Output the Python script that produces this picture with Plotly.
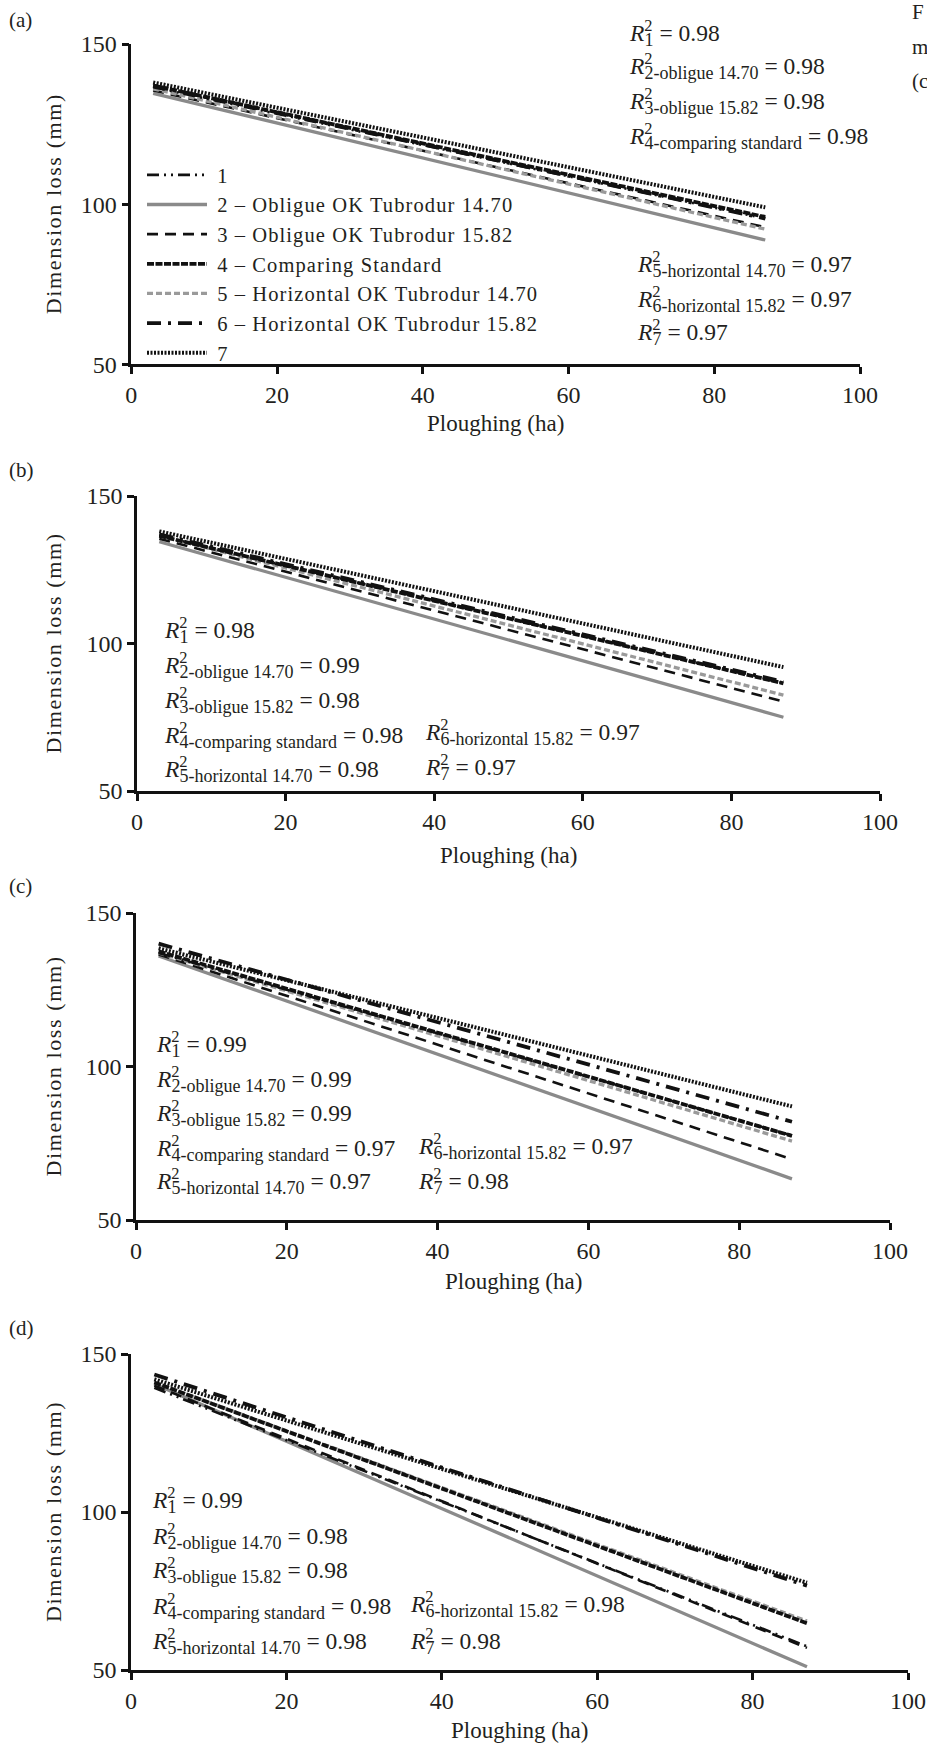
import plotly.graph_objects as go

W, H = 927, 1747
FONT = "Liberation Serif"
TXT = "#231f20"

# ---------------- data ----------------
x_ha = [3, 87]
series_names = [
    "1",
    "2 – Obligue OK Tubrodur 14.70",
    "3 – Obligue OK Tubrodur 15.82",
    "4 – Comparing Standard",
    "5 – Horizontal OK Tubrodur 14.70",
    "6 – Horizontal OK Tubrodur 15.82",
    "7",
]
# start (x=3 ha) and end (x=87 ha) dimension loss, series 1..7
a_start = [136.5, 134.6, 135.5, 137.0, 136.0, 137.0, 138.0]
a_end = [95.5, 88.8, 92.8, 96.0, 92.2, 95.5, 99.0]
b_start = [136.5, 134.5, 135.5, 136.5, 136.5, 137.0, 138.0]
b_end = [86.5, 75.0, 80.3, 86.5, 82.5, 87.0, 92.0]
c_start = [137.0, 136.0, 136.5, 137.5, 137.0, 140.0, 138.5]
c_end = [77.5, 63.4, 69.8, 77.4, 75.7, 82.0, 87.0]
d_start = [139.3, 140.5, 140.0, 141.0, 141.0, 143.5, 142.0]
d_end = [57.5, 51.0, 57.0, 64.8, 65.5, 76.7, 77.6]

r2_labels = ["1", "2-obligue 14.70", "3-obligue 15.82", "4-comparing standard",
             "5-horizontal 14.70", "6-horizontal 15.82", "7"]
a_r2 = ["0.98", "0.98", "0.98", "0.98", "0.97", "0.97", "0.97"]
b_r2 = ["0.98", "0.99", "0.98", "0.98", "0.98", "0.97", "0.97"]
c_r2 = ["0.99", "0.99", "0.99", "0.97", "0.97", "0.97", "0.98"]
d_r2 = ["0.99", "0.98", "0.98", "0.98", "0.98", "0.98", "0.98"]

x_ticks = [0, 20, 40, 60, 80, 100]
y_ticks = [50, 100, 150]

# ---------------- styles ----------------
GRAY = "#8a8a8a"
styles = [
    dict(color="#111", width=2.6, dash="12px,5px,2px,5px,2px,5px"),
    dict(color=GRAY, width=3.3, dash="solid"),
    dict(color="#111", width=2.6, dash="11px,7px"),
    dict(color="#111", width=3.8, dash="7px,1.5px"),
    dict(color="#9a9a9a", width=3.3, dash="6px,3px"),
    dict(color="#111", width=3.8, dash="14px,7px,3px,7px"),
    dict(color="#111", width=4.0, dash="2px,1.5px"),
]
draw_order = [1, 2, 4, 3, 0, 5, 6]

# panel plot areas in px: (x_left, x_right, y_top, y_bottom)
panels = [
    (131.3, 860.0, 44.0, 364.3),
    (137.0, 880.0, 496.0, 791.0),
    (136.0, 890.0, 913.0, 1220.0),
    (131.0, 908.0, 1354.0, 1670.0),
]
starts = [a_start, b_start, c_start, d_start]
ends = [a_end, b_end, c_end, d_end]
r2s = [a_r2, b_r2, c_r2, d_r2]
letters = ["(a)", "(b)", "(c)", "(d)"]

fig = go.Figure()

for p in range(4):
    ax = "" if p == 0 else str(p + 1)
    for i in draw_order:
        st = styles[i]
        fig.add_trace(go.Scatter(
            x=x_ha, y=[starts[p][i], ends[p][i]],
            mode="lines",
            name="\u00a0<span style='letter-spacing:1.1px'>" + series_names[i] + "</span>",
            line=dict(color=st["color"], width=st["width"], dash=st["dash"]),
            xaxis="x" + ax, yaxis="y" + ax,
            showlegend=(p == 0), legendrank=i + 1,
            hoverinfo="skip",
        ))

layout = dict(
    width=W, height=H, margin=dict(l=0, r=0, t=0, b=0, autoexpand=False),
    paper_bgcolor="white", plot_bgcolor="white",
    font=dict(family=FONT, size=22, color=TXT),
    showlegend=True,
    legend=dict(x=142 / W, y=1 - 155 / H, xanchor="left", yanchor="top",
                bgcolor="rgba(0,0,0,0)", font=dict(family=FONT, size=20.5, color=TXT),
                itemwidth=60, tracegroupgap=0),
)
for p, (xl, xr, yt, yb) in enumerate(panels):
    ax = "" if p == 0 else str(p + 1)
    layout["xaxis" + ax] = dict(
        domain=[xl / W, xr / W], range=[0, 100], anchor="y" + ax, automargin=False,
        tickvals=x_ticks, ticks="outside", ticklen=7, tickwidth=2.5, tickcolor="#111",
        showline=True, linewidth=2.5, linecolor="#111", showgrid=False, zeroline=False,
        tickfont=dict(family=FONT, size=24, color=TXT), fixedrange=True,
    )
    layout["yaxis" + ax] = dict(
        domain=[1 - yb / H, 1 - yt / H], range=[50, 150], anchor="x" + ax, automargin=False,
        tickvals=y_ticks, ticks="outside", ticklen=7, tickwidth=2.5, tickcolor="#111",
        showline=True, linewidth=2.5, linecolor="#111", showgrid=False, zeroline=False,
        tickfont=dict(family=FONT, size=24, color=TXT), fixedrange=True,
    )
fig.update_layout(**layout)

ann = []


def r2_text(sub, val):
    return ("<i>R</i><sup><span style='letter-spacing:-8px'>2</span></sup>"
            "<sub><span style='font-size:18px'>" + sub + "</span></sub> = " + val)


def add_text(txt, px, py, xanchor="left", size=22, angle=0):
    ann.append(dict(text=txt, x=px / W, y=1 - py / H, xref="paper", yref="paper",
                    xanchor=xanchor, yanchor="middle", showarrow=False, textangle=angle,
                    font=dict(family=FONT, size=size, color=TXT)))


for p, (xl, xr, yt, yb) in enumerate(panels):
    add_text(letters[p], 7, [20, 470, 886, 1328][p], size=21)
    add_text("Ploughing (ha)", (xl + xr) / 2, yb + [59, 64, 61, 60][p],
             xanchor="center", size=23)
    add_text("<span style='letter-spacing:1.6px'>Dimension loss (mm)</span>", 53,
             (yt + yb) / 2, xanchor="center", size=22, angle=-90)

# R² labels: (panel, series index, x px, y px)
r2_pos = [
    (0, 0, 627, 33), (0, 1, 627, 66), (0, 2, 627, 101), (0, 3, 627, 136),
    (0, 4, 635, 264), (0, 5, 635, 299), (0, 6, 635, 332),
    (1, 0, 162, 630), (1, 1, 162, 665), (1, 2, 162, 700), (1, 3, 162, 735), (1, 4, 162, 769),
    (1, 5, 423, 732), (1, 6, 423, 767),
    (2, 0, 154, 1044), (2, 1, 154, 1079), (2, 2, 154, 1113), (2, 3, 154, 1148), (2, 4, 154, 1181),
    (2, 5, 416, 1146), (2, 6, 416, 1181),
    (3, 0, 150, 1500), (3, 1, 150, 1536), (3, 2, 150, 1570), (3, 3, 150, 1606), (3, 4, 150, 1641),
    (3, 5, 408, 1604), (3, 6, 408, 1641),
]
for p, i, px, py in r2_pos:
    add_text(r2_text(r2_labels[i], r2s[p][i]), px, py, size=23.5)

# caption fragments cut off at the right edge of the page
add_text("F", 910, 12, size=21)
add_text("m", 910, 47, size=21)
add_text("(c", 910, 81, size=21)

fig.update_layout(annotations=ann)
fig.write_html(
    "out.html",
    config={"displayModeBar": False},
    post_script="document.body.style.margin='0';document.body.style.overflow='hidden';",
)
